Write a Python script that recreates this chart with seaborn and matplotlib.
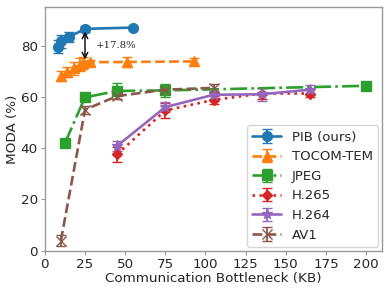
import numpy as np
import matplotlib
matplotlib.use('Agg')
import matplotlib.pyplot as plt
import seaborn as sns

# данные
pib_x = [8, 10, 15, 25, 55]
pib_y = [79.5, 81.7, 83.3, 86.5, 87.0]
pib_err = [2.5, 2.5, 2.0, 1.2, 0.5]

tocom_x = [10, 14, 18, 22, 24, 28, 51, 93]
tocom_y = [68.0, 69.7, 71.2, 72.5, 73.2, 73.5, 73.6, 73.8]
tocom_err = [2.0, 2.0, 2.5, 2.5, 2.5, 1.0, 2.0, 1.2]

jpeg_x = [12.5, 25, 45, 75, 200]
jpeg_y = [42.0, 59.8, 62.3, 62.5, 64.3]
jpeg_err = [1.5, 1.0, 3.0, 2.5, 1.5]

h265_x = [45, 75, 105, 135, 165]
h265_y = [37.6, 54.7, 58.8, 61.3, 61.3]
h265_err = [3.0, 3.0, 1.5, 2.0, 1.5]

h264_x = [45, 75, 105, 135, 165]
h264_y = [40.9, 56.0, 60.8, 61.0, 62.8]
h264_err = [2.0, 2.0, 1.5, 2.5, 2.0]

av1_x = [10, 25, 45, 75, 105]
av1_y = [4.0, 55.0, 60.3, 62.8, 63.5]
av1_err = [2.0, 1.5, 1.0, 1.5, 1.5]

sns.set_style('white')
plt.rcParams['font.family'] = ['DejaVu Sans']
plt.rcParams['axes.edgecolor'] = '#999999'
plt.rcParams['axes.linewidth'] = 1.0
pal = sns.color_palette('tab10')

fig, ax = plt.subplots(figsize=(3.9, 2.93), dpi=100)
fig.subplots_adjust(left=0.115, right=0.98, top=0.976, bottom=0.144)

series = [
    ('PIB (ours)', pib_x, pib_y, pib_err, pal[0], '-', 'o', 7),
    ('TOCOM-TEM', tocom_x, tocom_y, tocom_err, pal[1], '--', '^', 7),
    ('JPEG', jpeg_x, jpeg_y, jpeg_err, pal[2], '-.', 's', 7),
    ('H.265', h265_x, h265_y, h265_err, pal[3], ':', 'D', 5.5),
    ('H.264', h264_x, h264_y, h264_err, pal[4], '-', '*', 8),
    ('AV1', av1_x, av1_y, av1_err, pal[5], '--', 'x', 6.5),
]

for name, x, y, e, c, ls, mk, ms in series:
    ax.errorbar(x, y, yerr=e, color=c, linestyle=ls, marker=mk, markersize=ms,
                linewidth=1.9, capsize=3.5, elinewidth=1.3, label=name)

ax.annotate('', xy=(pib_x[3], tocom_y[5]), xytext=(pib_x[3], pib_y[3]),
            arrowprops=dict(arrowstyle='<->', color='black', lw=1.0))
ax.text(31.5, 80, '+17.8%', family='DejaVu Serif', fontsize=7.3, va='center')

ax.set_xlim(0, 210)
ax.set_ylim(0, 95)
ax.set_xticks([0, 25, 50, 75, 100, 125, 150, 175, 200])
ax.set_yticks([0, 20, 40, 60, 80])
ax.tick_params(axis='both', labelsize=9.7, length=3, color='#999999', direction='out',
               bottom=True, left=True, pad=2)
ax.set_xlabel('Communication Bottleneck (KB)', fontsize=9.7, labelpad=1)
ax.set_ylabel('MODA (%)', fontsize=9.7, labelpad=1)

ax.legend(loc='lower right', fontsize=9.5, frameon=True, handlelength=2.2,
          borderpad=0.4, labelspacing=0.5, borderaxespad=0.3)

fig.savefig('out.png', dpi=100)
